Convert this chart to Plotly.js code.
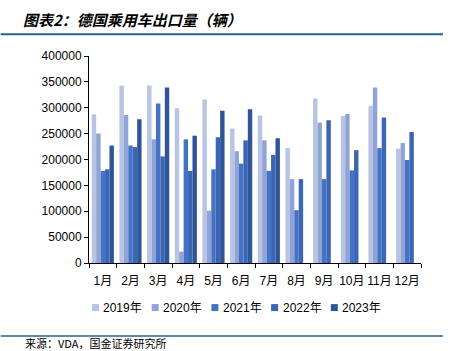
<!DOCTYPE html>
<html>
<head>
<meta charset="utf-8">
<script src="https://cdn.plot.ly/plotly-3.0.1.min.js"></script>
<style>html,body{margin:0;padding:0;background:#fff;}#chart{width:456px;height:351px;}</style>
</head>
<body>
<div id="chart"></div>
<script>
const months = ["1月","2月","3月","4月","5月","6月","7月","8月","9月","10月","11月","12月"];
const seriesNames = ["2019年","2020年","2021年","2022年","2023年"];
const y2019 = [287000,343000,343000,299000,316000,260000,285000,222000,318000,284000,304000,221000];
const y2020 = [250000,286000,239000,22000,101000,216000,237000,162000,271000,288000,339000,232000];
const y2021 = [178000,227000,308000,239000,181000,192000,178000,102000,162000,179000,222000,199000];
const y2022 = [181000,224000,206000,178000,243000,237000,209000,162000,276000,218000,281000,253000];
const y2023 = [227000,278000,339000,246000,294000,297000,241000,null,null,null,null,null];
const colors = ["#b7c4e4","#8fa3d6","#4472c4","#3b65b5","#2f5597"];
const yTicks = [0,50000,100000,150000,200000,250000,300000,350000,400000];

const allSeries = [y2019,y2020,y2021,y2022,y2023];
const traces = allSeries.map((vals,i)=>({
  type:"bar", name:seriesNames[i], x:months, y:vals,
  marker:{color:colors[i], line:{width:0}}
}));

// plot area geometry (px) used to convert to paper coords
const L = 88.5, R = 421, T = 55.7, B = 263.3;
const W = 456, H = 351;
const px = x => (x - L) / (R - L);
const py = y => (B - y) / (B - T);

const font = "Liberation Sans, Arial, Noto Sans CJK SC, sans-serif";
const cjk = "Noto Sans CJK SC, sans-serif";

const annotations = [
  {text:"<b><i>图表2：德国乘用车出口量（辆）</i></b>", xref:"paper", yref:"paper",
   x:px(20), y:py(19), xanchor:"left", yanchor:"middle", showarrow:false,
   font:{size:15, family:cjk, color:"#000"}},
  {text:"来源：VDA，国金证券研究所", xref:"paper", yref:"paper",
   x:px(22), y:py(343.5), xanchor:"left", yanchor:"middle", showarrow:false,
   font:{size:11, family:cjk, color:"#000"}}
];
const shapes = [
  {type:"line", xref:"paper", yref:"paper", x0:px(0), x1:px(443), y0:py(34), y1:py(34),
   line:{color:"#2b5f8a", width:2}},
  {type:"line", xref:"paper", yref:"paper", x0:px(0), x1:px(443), y0:py(336.5), y1:py(336.5),
   line:{color:"#2b5f8a", width:1.5}}
];
// legend row
seriesNames.forEach((name,i)=>{
  const cx = 95 + i*59.8;
  shapes.push({type:"rect", xref:"paper", yref:"paper",
    x0:px(cx-3.5), x1:px(cx+3.5), y0:py(311.5), y1:py(304.5),
    line:{width:0}, fillcolor:colors[i]});
  annotations.push({text:name, xref:"paper", yref:"paper",
    x:px(cx+6), y:py(308), xanchor:"left", yanchor:"middle", showarrow:false,
    font:{size:12, family:font, color:"#000"}});
});

const layout = {
  width:W, height:H,
  margin:{l:L, r:W-R, t:T, b:H-B, autoexpand:false},
  paper_bgcolor:"#fff", plot_bgcolor:"#fff",
  barmode:"group", bargap:0.2, bargroupgap:0,
  font:{family:font, size:12, color:"#000"},
  showlegend:false,
  xaxis:{type:"category", showline:true, linecolor:"#000", linewidth:1,
         ticks:"outside", tickson:"boundaries", ticklen:4, tickcolor:"#000", tickangle:0,
         ticklabelstandoff:7,
         automargin:false, tickfont:{size:12, family:font}, showgrid:false, zeroline:false},
  yaxis:{range:[0,400000], tickvals:yTicks, ticktext:yTicks.map(String), automargin:false,
         showline:true, linecolor:"#000", linewidth:1, ticks:"outside", ticklen:4,
         tickcolor:"#000", showgrid:false, zeroline:false, tickfont:{size:12, family:font}},
  annotations:annotations,
  shapes:shapes
};
Plotly.newPlot("chart", traces, layout, {displayModeBar:false, staticPlot:true});
</script>
</body>
</html>
